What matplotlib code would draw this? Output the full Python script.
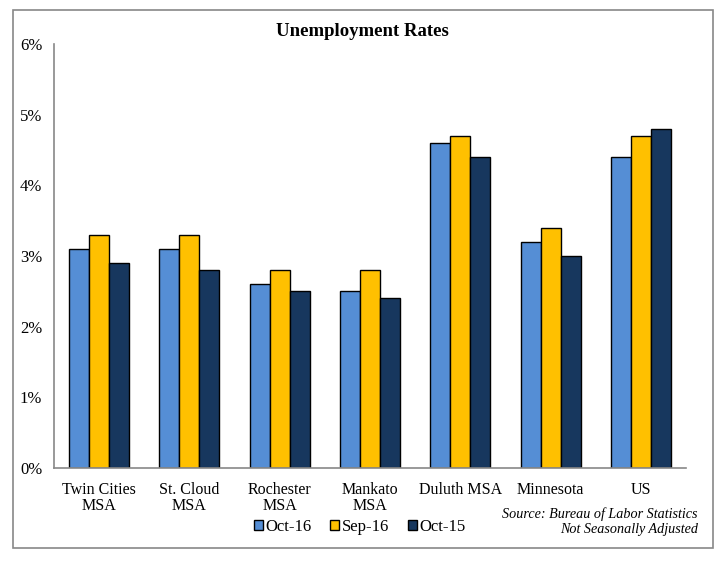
import matplotlib.pyplot as plt
import numpy as np
from matplotlib.patches import Rectangle
from matplotlib.ticker import FuncFormatter

plt.rcParams['font.family'] = ['Liberation Serif', 'DejaVu Serif']

categories = ['Twin Cities\nMSA', 'St. Cloud\nMSA', 'Rochester\nMSA', 'Mankato\nMSA',
              'Duluth MSA', 'Minnesota', 'US']
oct16 = [3.1, 3.1, 2.6, 2.5, 4.6, 3.2, 4.4]
sep16 = [3.3, 3.3, 2.8, 2.8, 4.7, 3.4, 4.7]
oct15 = [2.9, 2.8, 2.5, 2.4, 4.4, 3.0, 4.8]
series_names = ['Oct-16', 'Sep-16', 'Oct-15']
colors = ['#558ED5', '#FFC000', '#17375E']

fig = plt.figure(figsize=(7.28, 5.62), dpi=100)
ax = fig.add_axes([54 / 728, 94 / 562, 632 / 728, 424 / 562])

# outer frame
fig.patches.append(Rectangle((13 / 728, 14 / 562), 700 / 728, 538 / 562,
                             transform=fig.transFigure, fill=False,
                             edgecolor='#888888', linewidth=1.2))

x = np.arange(len(categories))
w = 0.222
for i, (vals, name, c) in enumerate(zip([oct16, sep16, oct15], series_names, colors)):
    ax.bar(x + (i - 1) * w, vals, w, color=c, edgecolor='black', linewidth=1.0, label=name)

ax.set_xlim(-0.5, len(categories) - 0.5)
ax.set_ylim(0, 6)
ax.set_yticks(range(0, 7))
ax.yaxis.set_major_formatter(FuncFormatter(lambda v, p: '%d%%' % v))
ax.set_xticks(x)
ax.set_xticklabels(categories, fontsize=11.5, linespacing=1.05)
ax.tick_params(axis='y', labelsize=12, length=0, pad=8.5)
ax.tick_params(axis='x', length=0, pad=10)

for s in ['top', 'right']:
    ax.spines[s].set_visible(False)
for s in ['left', 'bottom']:
    ax.spines[s].set_color('#888888')
    ax.spines[s].set_linewidth(1.2)

fig.text(362 / 728, 1 - 31 / 562, 'Unemployment Rates', ha='center', va='center',
         fontsize=13.5, fontweight='bold')

ax.legend(loc='center left', bbox_to_anchor=(254 / 728, 1 - 527 / 562),
          bbox_transform=fig.transFigure, ncol=3, frameon=False, fontsize=12,
          handlelength=0.55, handleheight=0.55, handletextpad=0.15, columnspacing=1.1,
          borderaxespad=0, borderpad=0)

fig.text(698 / 728, 1 - 514 / 562, 'Source: Bureau of Labor Statistics', ha='right',
         va='center', fontsize=10.2, style='italic')
fig.text(698 / 728, 1 - 530 / 562, 'Not Seasonally Adjusted', ha='right',
         va='center', fontsize=10.2, style='italic')

fig.savefig('out.png', dpi=100)
